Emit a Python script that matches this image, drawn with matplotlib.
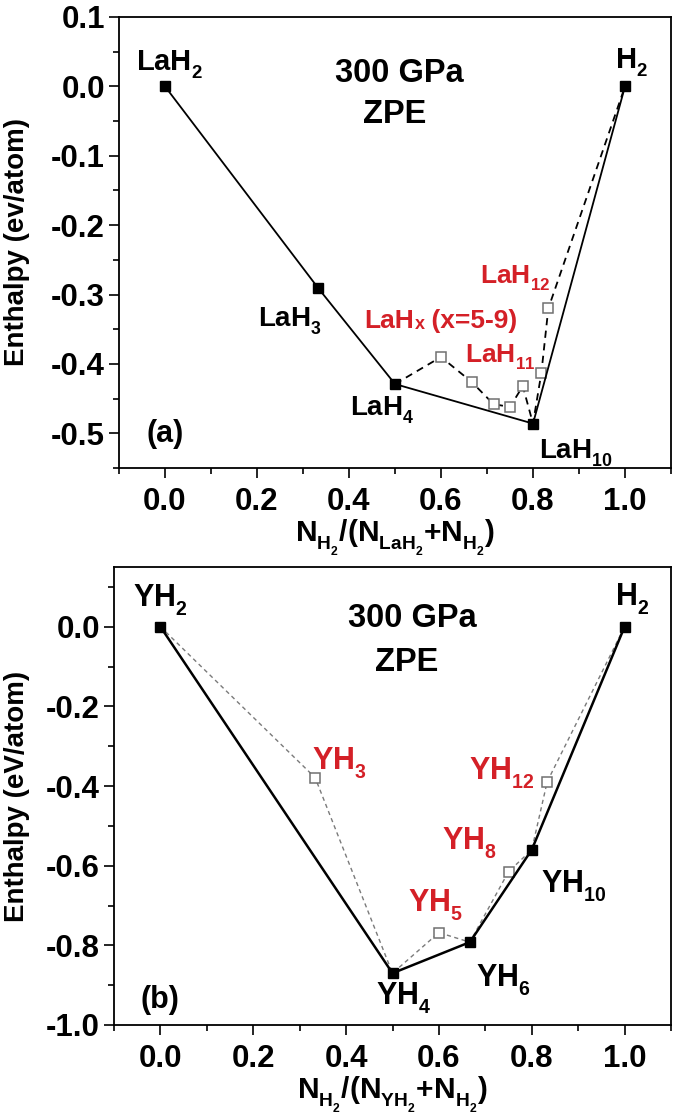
import matplotlib
matplotlib.use("Agg")
import matplotlib.pyplot as plt
from matplotlib.ticker import MultipleLocator

plt.rcParams['font.family'] = ['Liberation Sans', 'DejaVu Sans']
plt.rcParams['font.weight'] = 'bold'
plt.rcParams['axes.labelweight'] = 'bold'
plt.rcParams['mathtext.fontset'] = 'custom'
plt.rcParams['mathtext.rm'] = 'Liberation Sans:bold'
plt.rcParams['mathtext.it'] = 'Liberation Sans:bold'
plt.rcParams['mathtext.bf'] = 'Liberation Sans:bold'

# subscripts in the original sit lower and are a bit smaller
try:
    from matplotlib import _mathtext
    _mathtext.FontConstantsBase.sub1 = 0.55
    _mathtext.SHRINK_FACTOR = 0.64
except Exception:
    pass

RED = '#d42027'

# ---- panel (a): La-H ----
la_hull_x = [0.0, 1/3, 0.5, 0.8, 1.0]
la_hull_y = [0.0, -0.291, -0.429, -0.486, 0.0]
la_hull_names = ['LaH$_2$', 'LaH$_3$', 'LaH$_4$', 'LaH$_{10}$', 'H$_2$']
la_meta_x = [0.6, 2/3, 5/7, 0.75, 7/9, 9/11, 5/6]
la_meta_y = [-0.390, -0.426, -0.458, -0.462, -0.432, -0.413, -0.320]

# ---- panel (b): Y-H ----
y_hull_x = [0.0, 0.5, 2/3, 0.8, 1.0]
y_hull_y = [0.0, -0.870, -0.792, -0.560, 0.0]
y_hull_names = ['YH$_2$', 'YH$_4$', 'YH$_6$', 'YH$_{10}$', 'H$_2$']
y_meta_x = [1/3, 0.6, 0.75, 5/6]
y_meta_y = [-0.379, -0.768, -0.615, -0.389]
y_meta_names = ['YH$_3$', 'YH$_5$', 'YH$_8$', 'YH$_{12}$']

fig = plt.figure(figsize=(6.77, 11.17), dpi=100)
W, H = 677, 1117
ax_a = fig.add_axes([119 / W, 1 - 468 / H, (671 - 119) / W, (468 - 17) / H])
ax_b = fig.add_axes([114 / W, 1 - 1025 / H, (671 - 114) / W, (1025 - 567) / H])


def style_axes(ax):
    for s in ax.spines.values():
        s.set_linewidth(1.3)
    ax.tick_params(which='both', direction='out', top=False, right=False, width=1.2, labelsize=22.5)
    ax.tick_params(which='major', length=7)
    ax.tick_params(which='minor', length=4)
    ax.tick_params(axis='x', pad=7)
    ax.tick_params(axis='y', pad=3)
    ax.set_xlim(-0.1, 1.1)
    ax.xaxis.set_major_locator(MultipleLocator(0.2))
    ax.xaxis.set_minor_locator(MultipleLocator(0.1))
    ax.xaxis.set_major_formatter(lambda v, p: f"{v:.1f}")
    ax.yaxis.set_major_formatter(lambda v, p: f"{v:.1f}")


def bold_ticks(ax):
    for lab in ax.get_xticklabels() + ax.get_yticklabels():
        lab.set_fontweight('bold')


# panel (a)
style_axes(ax_a)
ax_a.set_ylim(-0.55, 0.1)
ax_a.yaxis.set_major_locator(MultipleLocator(0.1))
ax_a.yaxis.set_minor_locator(MultipleLocator(0.05))

path_a = sorted(zip([0.5, 0.8, 1.0] + la_meta_x, [-0.429, -0.486, 0.0] + la_meta_y))
ax_a.plot([p[0] for p in path_a], [p[1] for p in path_a], color='black', lw=1.3,
          dashes=(4, 3))
ax_a.plot(la_meta_x, la_meta_y, 's', ms=7, mfc='white', mec='#707070', mew=1.1)
ax_a.plot(la_hull_x, la_hull_y, color='black', lw=1.3)
ax_a.plot(la_hull_x, la_hull_y, 's', ms=7, color='black')

lab_a = [(0.01, 0.024, 21), (0.271, -0.347, 20), (0.473, -0.475, 20),
         (0.893, -0.537, 20), (1.013, 0.026, 21)]
for name, (tx, ty, fs) in zip(la_hull_names, lab_a):
    ax_a.text(tx, ty, name, fontsize=fs, ha='center', va='baseline', color='black')

ax_a.text(0.51, 0.006, '300 GPa', fontsize=23.5, ha='center', va='baseline')
ax_a.text(0.50, -0.053, 'ZPE', fontsize=23.5, ha='center', va='baseline')
ax_a.text(0.0, -0.512, '(a)', fontsize=22, ha='center', va='baseline')

ax_a.text(0.761, -0.284, 'LaH$_{12}$', fontsize=19, ha='center', va='baseline', color=RED)
ax_a.text(0.728, -0.397, 'LaH$_{11}$', fontsize=19, ha='center', va='baseline', color=RED)
t_lah = ax_a.text(0.434, -0.348, 'LaH', fontsize=19, ha='left', va='baseline', color=RED)
t_x = ax_a.annotate('x', xy=(1, 0), xycoords=t_lah, fontsize=13, ha='left',
                    va='bottom', color=RED)
ax_a.annotate(' (x=5-9)', xy=(1, 0), xycoords=(t_x, t_lah), fontsize=19, ha='left',
              va='bottom', color=RED)

ax_a.set_ylabel('Enthalpy (ev/atom)', fontsize=20)
ax_a.yaxis.set_label_coords(-0.161, 0.5)
ax_a.set_xlabel(r'N$_{\mathrm{H_2}}$/(N$_{\mathrm{LaH_2}}$+N$_{\mathrm{H_2}}$)', fontsize=21.5,
                labelpad=0)
bold_ticks(ax_a)

# panel (b)
style_axes(ax_b)
ax_b.set_ylim(-1.0, 0.15)
ax_b.yaxis.set_major_locator(MultipleLocator(0.2))
ax_b.yaxis.set_minor_locator(MultipleLocator(0.1))

path_b = sorted(zip(y_hull_x + y_meta_x, y_hull_y + y_meta_y))
ax_b.plot([p[0] for p in path_b], [p[1] for p in path_b], color='#7a7a7a', lw=1.0,
          dashes=(3, 2.5))
ax_b.plot(y_meta_x, y_meta_y, 's', ms=7, mfc='white', mec='#707070', mew=1.1)
ax_b.plot(y_hull_x, y_hull_y, color='black', lw=1.8)
ax_b.plot(y_hull_x, y_hull_y, 's', ms=7, color='black')

lab_b = [(0.0, 0.051), (0.525, -0.95), (0.739, -0.904), (0.891, -0.668), (1.016, 0.053)]
for name, (tx, ty) in zip(y_hull_names, lab_b):
    ax_b.text(tx, ty, name, fontsize=22, ha='center', va='baseline', color='black')

lab_bm = [(0.386, -0.359), (0.592, -0.715), (0.665, -0.560), (0.736, -0.384)]
for name, (tx, ty) in zip(y_meta_names, lab_bm):
    ax_b.text(tx, ty, name, fontsize=22, ha='center', va='baseline', color=RED)

ax_b.text(0.543, 0.0, '300 GPa', fontsize=23.5, ha='center', va='baseline')
ax_b.text(0.53, -0.112, 'ZPE', fontsize=23.5, ha='center', va='baseline')
ax_b.text(0.0, -0.957, '(b)', fontsize=22, ha='center', va='baseline')

ax_b.set_ylabel('Enthalpy (eV/atom)', fontsize=20)
ax_b.yaxis.set_label_coords(-0.151, 0.5)
ax_b.set_xlabel(r'N$_{\mathrm{H_2}}$/(N$_{\mathrm{YH_2}}$+N$_{\mathrm{H_2}}$)', fontsize=21.5,
                labelpad=0)
bold_ticks(ax_b)

fig.savefig('out.png', dpi=100)
